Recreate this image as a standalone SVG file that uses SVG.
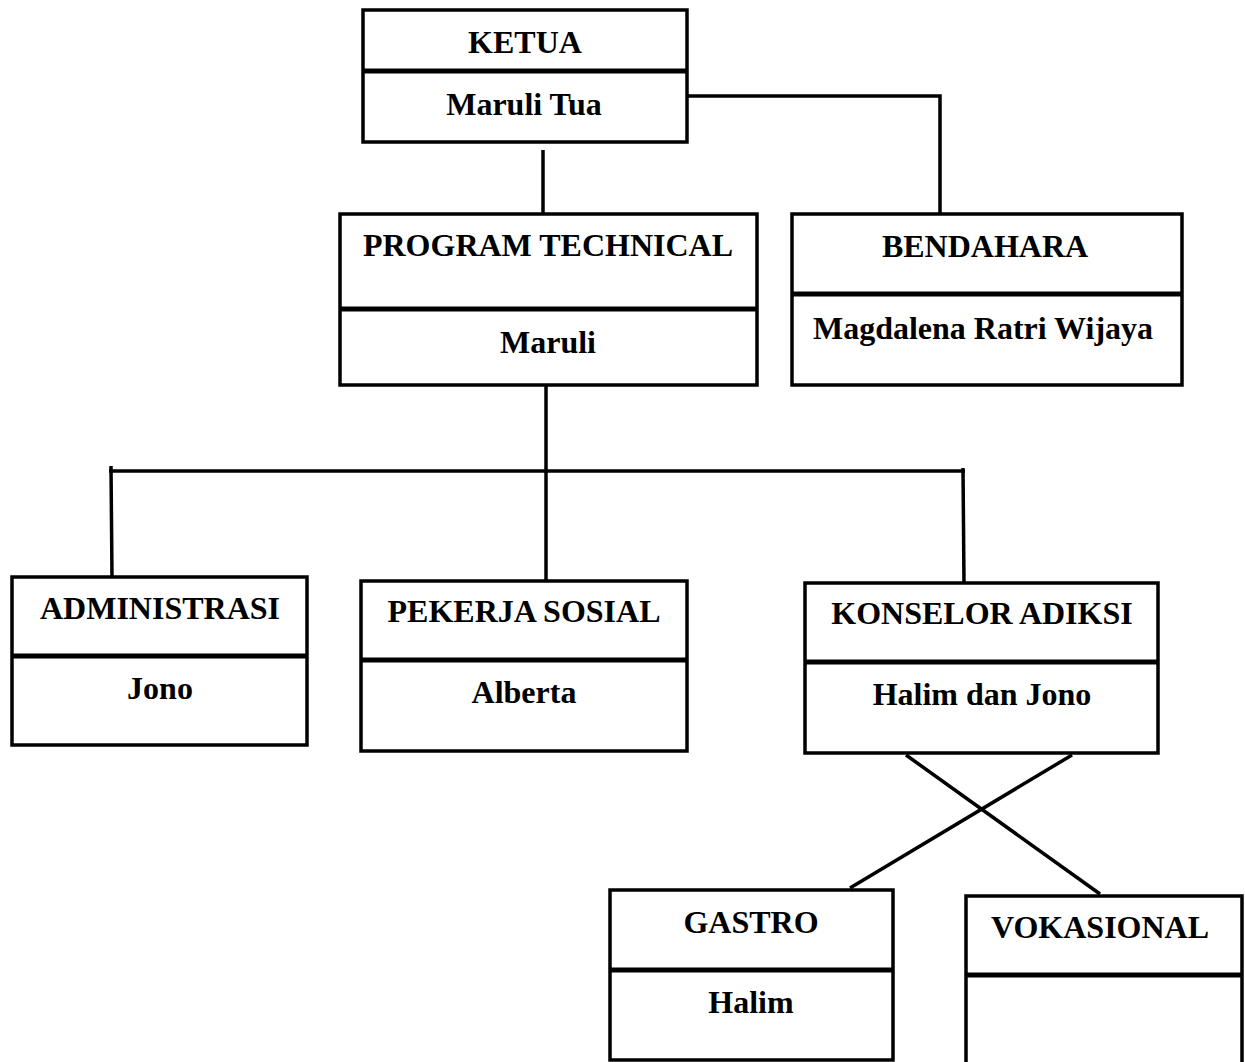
<svg xmlns="http://www.w3.org/2000/svg" width="1245" height="1062" viewBox="0 0 1245 1062">
<style>
.box{fill:#fff;stroke:#000;stroke-width:3.5}
.div{stroke:#000;stroke-width:5}
.t{font-family:"Liberation Serif","Times New Roman",serif;font-weight:bold;font-size:32px;text-anchor:middle;fill:#000}
.c{stroke:#000;stroke-width:3.5;fill:none}
</style>
<rect width="1245" height="1062" fill="#fff"/>
<g id="connectors">
<line class="c" x1="543" y1="150" x2="543" y2="214"/>
<polyline class="c" points="688,96 940,96 940,214"/>
<line class="c" x1="546" y1="380" x2="546" y2="581"/>
<line class="c" x1="109" y1="471" x2="965" y2="471"/>
<line class="c" x1="111" y1="466" x2="112" y2="577"/>
<line class="c" x1="963" y1="468" x2="964" y2="583"/>
<line class="c" x1="906" y1="755" x2="1100" y2="894"/>
<line class="c" x1="1072" y1="755" x2="850" y2="888"/>
</g>
<g id="ketua">
<rect class="box" x="363" y="10" width="324" height="132"/>
<line class="div" x1="363" y1="71" x2="687" y2="71"/>
<text class="t" x="525" y="53">KETUA</text>
<text class="t" x="524" y="115">Maruli Tua</text>
</g>
<g id="program">
<rect class="box" x="340" y="214" width="417" height="171"/>
<line class="div" x1="340" y1="309" x2="757" y2="309"/>
<text class="t" x="548" y="256">PROGRAM TECHNICAL</text>
<text class="t" x="548" y="353">Maruli</text>
</g>
<g id="bendahara">
<rect class="box" x="792" y="214" width="390" height="171"/>
<line class="div" x1="792" y1="294" x2="1182" y2="294"/>
<text class="t" x="985" y="257">BENDAHARA</text>
<text class="t" x="983" y="339">Magdalena Ratri Wijaya</text>
</g>
<g id="administrasi">
<rect class="box" x="12" y="577" width="295" height="168"/>
<line class="div" x1="12" y1="656" x2="307" y2="656"/>
<text class="t" x="160" y="619">ADMINISTRASI</text>
<text class="t" x="160" y="699">Jono</text>
</g>
<g id="pekerja">
<rect class="box" x="361" y="581" width="326" height="170"/>
<line class="div" x1="361" y1="660" x2="687" y2="660"/>
<text class="t" x="524" y="622">PEKERJA SOSIAL</text>
<text class="t" x="524" y="703">Alberta</text>
</g>
<g id="konselor">
<rect class="box" x="805" y="583" width="353" height="170"/>
<line class="div" x1="805" y1="662" x2="1158" y2="662"/>
<text class="t" x="982" y="624">KONSELOR ADIKSI</text>
<text class="t" x="982" y="705">Halim dan Jono</text>
</g>
<g id="gastro">
<rect class="box" x="610" y="890" width="283" height="170"/>
<line class="div" x1="610" y1="970" x2="893" y2="970"/>
<text class="t" x="751" y="933">GASTRO</text>
<text class="t" x="751" y="1013">Halim</text>
</g>
<g id="vokasional">
<rect class="box" x="966" y="896" width="276" height="170"/>
<line class="div" x1="966" y1="975" x2="1242" y2="975"/>
<text class="t" x="1100" y="938">VOKASIONAL</text>
</g>
</svg>
